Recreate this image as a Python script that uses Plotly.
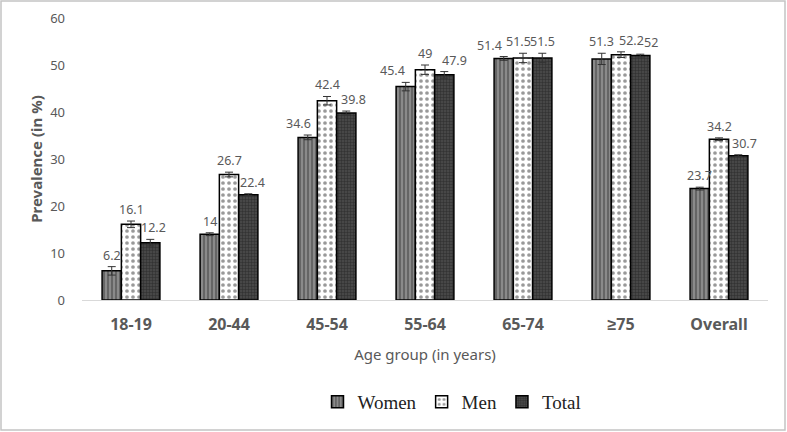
import plotly.graph_objects as go

categories = ["18-19", "20-44", "45-54", "55-64", "65-74", "≥75", "Overall"]
women = [6.2, 14, 34.6, 45.4, 51.4, 51.3, 23.7]
men = [16.1, 26.7, 42.4, 49, 51.5, 52.2, 34.2]
total = [12.2, 22.4, 39.8, 47.9, 51.5, 52, 30.7]
women_err = [0.9, 0.3, 0.5, 0.9, 0.4, 1.2, 0.3]
men_err = [0.7, 0.5, 0.9, 1.0, 1.0, 0.6, 0.3]
total_err = [0.7, 0.2, 0.4, 0.7, 1.0, 0.3, 0.2]
y_ticks = [0, 10, 20, 30, 40, 50, 60]

series = [
    ("Women", women, women_err, dict(shape="|", bgcolor="#8a8a8a", fgcolor="#262626", size=4, solidity=0.38)),
    ("Men", men, men_err, dict(shape=".", bgcolor="#ffffff", fgcolor="#333333", size=6, solidity=0.3)),
    ("Total", total, total_err, dict(shape="+", bgcolor="#474747", fgcolor="#111111", size=3, solidity=0.3)),
]

# small horizontal label nudges (px) where the reference spreads crowded labels apart
label_nudge = {(2, 0): 3, (0, 2): -9, (2, 2): 7, (0, 3): -13, (2, 3): 10, (2, 1): 4,
               (0, 4): -14, (1, 4): -5, (1, 5): 10, (2, 5): 11, (2, 6): 6}

BARGAP = 0.41
bw = (1 - BARGAP) / 3

fig = go.Figure()
annotations = []
for k, (name, vals, errs, pat) in enumerate(series):
    fig.add_trace(go.Bar(
        name=name, x=categories, y=vals,
        marker=dict(color=pat["bgcolor"], pattern=pat, line=dict(color="#000000", width=1.5)),
        error_y=dict(type="data", array=errs, visible=True, color="#333333", thickness=1, width=4),
    ))
    off = (k - 1) * bw
    for i, (v, e) in enumerate(zip(vals, errs)):
        annotations.append(dict(
            x=i + off, y=v + e, xref="x", yref="y", text=f"{v:g}", showarrow=False,
            yanchor="bottom", yshift=1, xshift=label_nudge.get((k, i), 0),
            font=dict(family="Noto Sans, sans-serif", size=12.5, color="#595959"),
        ))

W, H = 787, 432
ml, mr, mt, mb = 82, 19, 18, 132
pw, ph = W - ml - mr, H - mt - mb
fig.add_shape(type="rect", xref="paper", yref="paper",
              x0=-(ml - 1) / pw, x1=1 + (mr - 2) / pw, y0=-(mb - 2) / ph, y1=1 + (mt - 1) / ph,
              line=dict(color="#c4c4c4", width=1.5), fillcolor="rgba(0,0,0,0)", layer="above")

fig.update_layout(
    width=W, height=H,
    margin=dict(l=ml, r=mr, t=mt, b=mb, autoexpand=False),
    paper_bgcolor="white", plot_bgcolor="white",
    barmode="group", bargap=BARGAP, bargroupgap=0,
    annotations=annotations,
    xaxis=dict(
        showline=True, linecolor="#d9d9d9", linewidth=1, ticks="", ticklabelstandoff=10,
        tickfont=dict(family="Noto Sans, sans-serif", size=16, color="#595959", weight="bold"),
        title=dict(text="Age group (in years)", standoff=15,
                   font=dict(family="Noto Sans, sans-serif", size=15, color="#595959")),
    ),
    yaxis=dict(
        range=[0, 60], tickvals=y_ticks, showgrid=False, zeroline=False, showline=False,
        ticks="", ticklabelstandoff=16,
        tickfont=dict(family="Noto Sans, sans-serif", size=13, color="#595959"),
        title=dict(text="Prevalence (in %)", standoff=3,
                   font=dict(family="Noto Sans, sans-serif", size=15, color="#595959", weight="bold")),
    ),
    legend=dict(orientation="h", x=(452 - ml) / pw, xanchor="center", y=-102 / ph, yanchor="middle",
                font=dict(family="Liberation Serif, Times New Roman, serif", size=19, color="#222222"),
                tracegroupgap=0),
    showlegend=True,
)

fig.write_html("out.html", config={"displayModeBar": False},
               post_script="document.body.style.margin='0px';")
